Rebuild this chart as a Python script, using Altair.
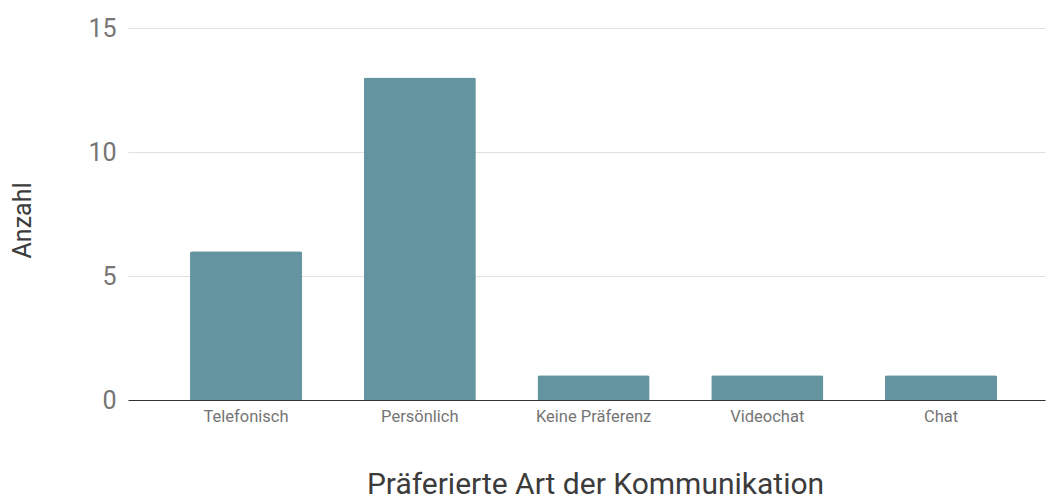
import altair as alt
import pandas as pd

categories = ["Telefonisch", "Persönlich", "Keine Präferenz", "Videochat", "Chat"]
values = [6, 13, 1, 1, 1]

df = pd.DataFrame({"Art": categories, "Anzahl": values})

chart = alt.Chart(df).mark_bar(
    color="#6394a0", cornerRadiusTopLeft=2, cornerRadiusTopRight=2
).encode(
    x=alt.X("Art:N", sort=categories,
            scale=alt.Scale(paddingInner=0.355, paddingOuter=0.3165, align=0.564),
            axis=alt.Axis(title="Präferierte Art der Kommunikation", labelAngle=0,
                          labelFont="Roboto", labelFontSize=16.5, labelColor="#757575",
                          labelPadding=8, ticks=False, domainColor="#333333",
                          titleFont="Roboto", titleFontSize=30, titleFontWeight="normal",
                          titleColor="#3c3c3c", titleX=467, titleY=93,
                          titleBaseline="alphabetic")),
    y=alt.Y("Anzahl:Q", scale=alt.Scale(domain=[0, 15]),
            axis=alt.Axis(title="Anzahl", values=[0, 5, 10, 15], domain=False, ticks=False,
                          labelFont="Roboto", labelFontSize=25, labelColor="#757575",
                          labelPadding=12, gridColor="#e0e0e0",
                          titleFont="Roboto", titleFontSize=25, titleFontWeight="normal",
                          titleColor="#3c3c3c", titleX=-93, titleY=192))
).properties(
    width=917, height=372,
    autosize=alt.AutoSizeParams(type="none"),
    padding={"left": 128, "top": 28, "right": 3, "bottom": 95}
).configure_view(stroke=None)

chart.save("out.html", embed_options={"renderer": "svg", "actions": False})
